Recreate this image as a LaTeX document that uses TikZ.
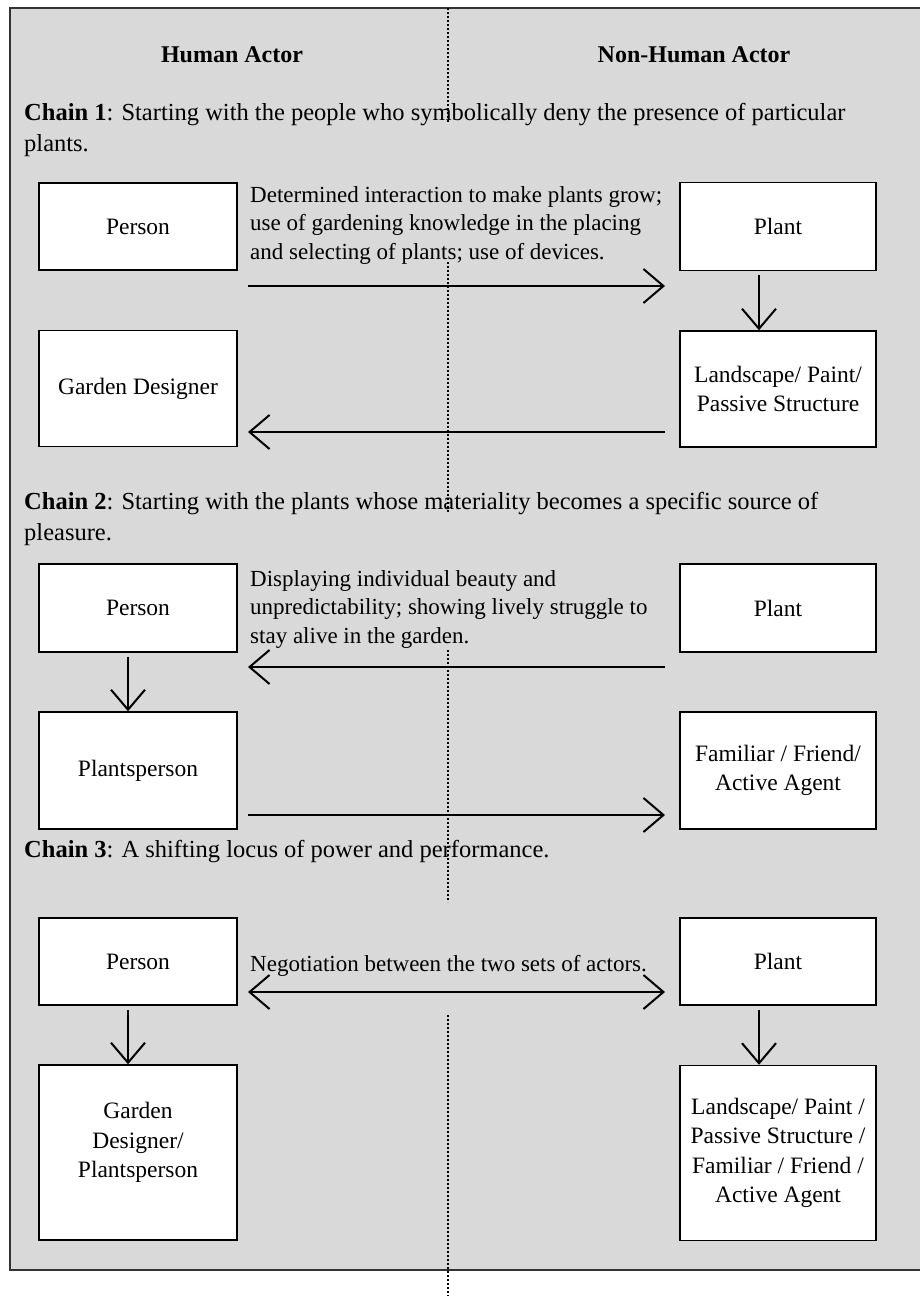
\documentclass[tikz,border=0pt]{standalone}
\usepackage{fontspec}
\setmainfont{Liberation Serif}
\usetikzlibrary{arrows.meta}
\tikzset{
  box/.style={draw=black, line width=1.5pt, fill=white, inner sep=0pt, align=center,
    font=\fontsize{23.5}{29.5}\selectfont},
  lbox/.style={box, minimum width=198pt},
  rbox/.style={box, minimum width=196pt},
  arr/.style={line width=2pt, -{Straight Barb[length=20pt, width=34pt, line width=2pt]}},
  darr/.style={line width=2pt, {Straight Barb[length=20pt, width=34pt, line width=2pt]}-{Straight Barb[length=20pt, width=34pt, line width=2pt]}},
  lbl/.style={inner sep=0pt, align=left, anchor=north west, font=\fontsize{23}{28.7}\selectfont},
  hdr/.style={inner sep=0pt, align=left, anchor=north west, font=\fontsize{24.5}{31}\selectfont},
  title/.style={inner sep=0pt, font=\fontsize{24}{29}\selectfont\bfseries},
  dots/.style={line width=2pt, dash pattern=on 2pt off 2pt},
}
\begin{document}
\begin{tikzpicture}[x=1pt, y=-1pt]
\useasboundingbox (0,0) rectangle (920,1298);
\fill[white] (0,0) rectangle (920,1298);
\draw[line width=2pt, draw=black!80, fill=black!15] (10,8) -- (10,1270) -- (925,1270) -- (925,8) -- cycle;

% dotted centre line (segments)
\draw[dots] (448,8) -- (448,122);
\draw[dots] (448,262) -- (448,513);
\draw[dots] (448,650) -- (448,902);
\draw[dots] (448,1015) -- (448,1296);

% headings
\node[title] (hh) at (232,55) {Human Actor};
\node[title] (nh) at (694,55) {Non-Human Actor};

% Chain 1
\node[hdr] (c1) at (24,103) {\textbf{Chain 1}: Starting with the people who symbolically deny the presence of particular\\plants.};
\node[lbox, minimum height=87pt] (p1) at (138,226.5) {Person};
\node[rbox, minimum height=88pt] (pl1) at (778,226.5) {Plant};
\node[lbox, minimum height=116pt] (gd1) at (138,388.5) {Garden Designer};
\node[rbox, minimum height=116pt] (ls1) at (778,389) {Landscape/ Paint/\\Passive Structure};
\node[lbl] (t1) at (250,186) {Determined interaction to make plants grow;\\use of gardening knowledge in the placing\\and selecting of plants; use of devices.};
\coordinate (a1s) at (248,286);
\coordinate (a1e) at (665,286);
\coordinate (a2s) at (665,432);
\coordinate (a2e) at (248,432);
\draw[arr] (a1s) -- (a1e);
\draw[arr] (a2s) -- (a2e);
\draw[arr] ([xshift=-19pt,yshift=-4pt]pl1.south) -- ([xshift=-19pt]ls1.north);

% Chain 2
\node[hdr] (c2) at (24,492) {\textbf{Chain 2}: Starting with the plants whose materiality becomes a specific source of\\pleasure.};
\node[lbox, minimum height=88pt] (p2) at (138,608) {Person};
\node[rbox, minimum height=88pt] (pl2) at (778,608) {Plant};
\node[lbox, minimum height=117pt] (ps2) at (138,770.5) {Plantsperson};
\node[rbox, minimum height=117pt] (fa2) at (778,770.5) {Familiar / Friend/\\Active Agent};
\node[lbl] (t2) at (250,570) {Displaying individual beauty and\\unpredictability; showing lively struggle to\\stay alive in the garden.};
\coordinate (b1s) at (665,667);
\coordinate (b1e) at (248,667);
\coordinate (b2s) at (248,815);
\coordinate (b2e) at (665,815);
\draw[arr] (b1s) -- (b1e);
\draw[arr] (b2s) -- (b2e);
\draw[arr] ([xshift=-10pt,yshift=-4pt]p2.south) -- ([xshift=-10pt]ps2.north);

% Chain 3
\node[hdr] (c3) at (24,840) {\textbf{Chain 3}: A shifting locus of power and performance.};
\node[lbox, minimum height=87pt] (p3) at (138,961.5) {Person};
\node[rbox, minimum height=87pt] (pl3) at (778,961.5) {Plant};
\node[lbox, minimum height=175pt] (gd3) at (138,1152.5) {Garden\\Designer/\\Plantsperson\\[-5pt]\mbox{}};
\node[rbox, minimum height=175pt] (ls3) at (778,1153) {Landscape/ Paint /\\Passive Structure /\\Familiar / Friend /\\Active Agent};
\node[lbl] (t3) at (250,955) {Negotiation between the two sets of actors.};
\coordinate (d1s) at (248,992);
\coordinate (d1e) at (665,992);
\draw[darr] (d1s) -- (d1e);
\draw[arr] ([xshift=-10pt,yshift=-4pt]p3.south) -- ([xshift=-10pt]gd3.north);
\draw[arr] ([xshift=-19pt,yshift=-4pt]pl3.south) -- ([xshift=-19pt]ls3.north);
\end{tikzpicture}
\end{document}
